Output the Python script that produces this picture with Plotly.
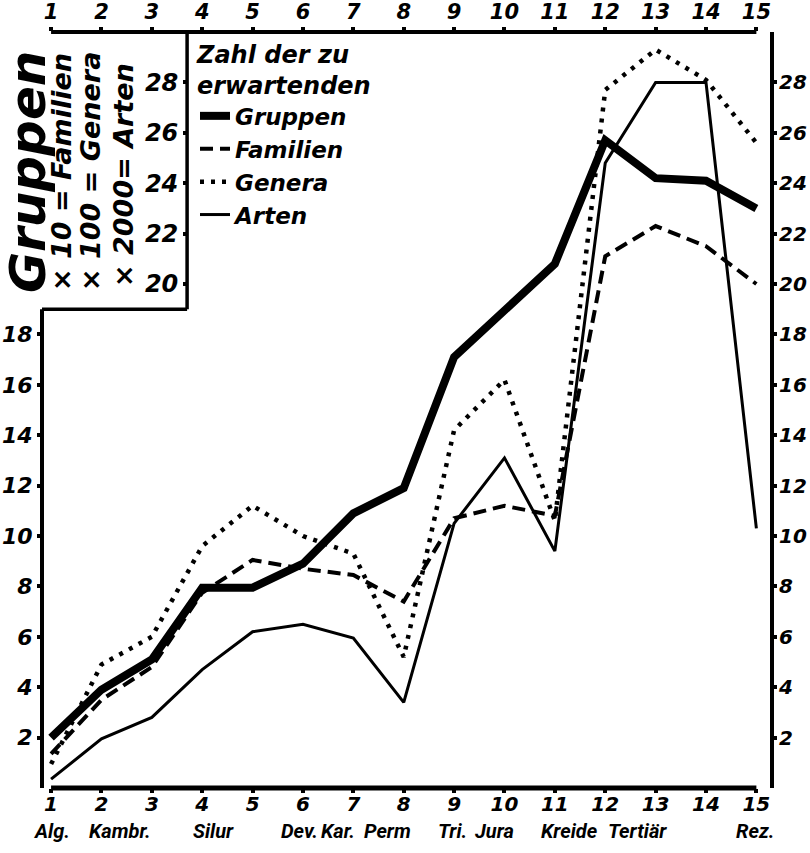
import plotly.graph_objects as go

# ---------------- data ----------------
epochs = list(range(1, 16))
period_names = ["Alg.", "Kambr.", "Silur", "Dev.", "Kar.", "Perm", "Tri.", "Jura", "Kreide", "Tertiär", "Rez."]
gruppen = [2.0, 3.9, 5.1, 7.95, 7.95, 8.9, 10.9, 11.9, 17.1, 19.0, 20.8, 25.7, 24.2, 24.1, 23.0]
familien = [1.35, 3.5, 4.8, 7.75, 9.05, 8.7, 8.45, 7.4, 10.7, 11.2, 10.8, 21.1, 22.3, 21.5, 20.0]
genera = [0.95, 4.9, 6.0, 9.6, 11.2, 10.0, 9.3, 5.2, 14.2, 16.2, 10.6, 27.7, 29.3, 28.1, 25.6]
arten = [0.35, 1.95, 2.8, 4.7, 6.2, 6.5, 5.95, 3.4, 10.5, 13.1, 9.4, 24.8, 28.0, 28.0, 10.3]
left_ticks = [2, 4, 6, 8, 10, 12, 14, 16, 18]
inset_ticks = [20, 22, 24, 26, 28]
right_ticks = [2, 4, 6, 8, 10, 12, 14, 16, 18, 20, 22, 24, 26, 28]

# ---------------- layout constants ----------------
W, H = 810, 853
ML, MR, MT, MB = 42, 38, 32, 65
X_RANGE = [0.82, 15.31]
Y_RANGE = [0, 30]
INSET_X = 3.70      # x position (data units) of the inset box edge
INSET_Y = 19        # y position (data units) of the inset box bottom
NAME_X = [1.0, 2.37, 4.23, 5.94, 6.69, 7.67, 8.96, 9.81, 11.3, 12.65, 14.97]
FAM = "DejaVu Sans"
INK = "black"

def f(size, family=FAM):
    return dict(family=family, size=size, color=INK, weight="bold", style="italic")

fig = go.Figure()
fig.add_trace(go.Scatter(x=epochs, y=gruppen, mode="lines", name="Gruppen",
                         line=dict(color=INK, width=8)))
fig.add_trace(go.Scatter(x=epochs, y=familien, mode="lines", name="Familien",
                         line=dict(color=INK, width=4, dash="13px,7px")))
fig.add_trace(go.Scatter(x=epochs, y=genera, mode="lines", name="Genera",
                         line=dict(color=INK, width=4.5, dash="4px,7px")))
fig.add_trace(go.Scatter(x=epochs, y=arten, mode="lines", name="Arten",
                         line=dict(color=INK, width=3)))
# invisible carriers so the top, right and inset axes are drawn
for xa, ya in (("x2", "y2"), ("x", "y3")):
    fig.add_trace(go.Scatter(x=epochs, y=gruppen, xaxis=xa, yaxis=ya, mode="lines",
                             line=dict(width=0), opacity=0, showlegend=False,
                             hoverinfo="skip"))

axis_common = dict(showgrid=False, zeroline=False, showline=False, ticks="outside",
                   ticklen=4, tickwidth=4, tickcolor=INK, automargin=False)

inset_pos = (INSET_X - X_RANGE[0]) / (X_RANGE[1] - X_RANGE[0])

fig.update_layout(
    width=W, height=H,
    margin=dict(l=ML, r=MR, t=MT, b=MB, pad=0),
    paper_bgcolor="white", plot_bgcolor="white",
    showlegend=True,
    legend=dict(x=(195 - ML) / (W - ML - MR), y=1.0,
                xanchor="left", yanchor="top", bgcolor="rgba(0,0,0,0)",
                font=f(23), title=dict(text="Zahl der zu<br>erwartenden", font=f(24), side="top"),
                itemwidth=30),
    xaxis=dict(range=X_RANGE, tickvals=epochs, ticktext=[str(e) for e in epochs],
               tickfont=f(20), tickangle=0, ticklabelstandoff=-6, **axis_common),
    xaxis2=dict(range=X_RANGE, overlaying="x", side="top", anchor="y", tickvals=epochs,
                ticktext=[str(e) for e in epochs], tickfont=f(21), tickangle=0, **axis_common),
    yaxis=dict(range=Y_RANGE, tickvals=left_ticks, ticktext=[str(v) for v in left_ticks],
               tickfont=f(22), **axis_common),
    yaxis2=dict(range=Y_RANGE, overlaying="y", side="right", anchor="x", tickvals=right_ticks,
                ticktext=[str(v) for v in right_ticks], tickfont=f(20),
                ticklabelstandoff=-2, **axis_common),
    yaxis3=dict(range=Y_RANGE, overlaying="y", side="left", anchor="free", position=inset_pos,
                tickvals=inset_ticks, ticktext=[str(v) for v in inset_ticks],
                tickfont=f(24), **axis_common),
)

# frame lines
shapes = [
    dict(type="line", xref="x", yref="paper", x0=epochs[0], x1=epochs[-1], y0=0, y1=0,
         line=dict(color=INK, width=5)),
    dict(type="line", xref="x", yref="paper", x0=epochs[0], x1=epochs[-1], y0=1, y1=1,
         line=dict(color=INK, width=4)),
    dict(type="line", xref="paper", yref="y", x0=0, x1=0, y0=-0.1, y1=INSET_Y,
         line=dict(color=INK, width=4)),
    dict(type="line", xref="paper", yref="paper", x0=1, x1=1, y0=0, y1=1,
         line=dict(color=INK, width=4)),
    dict(type="line", xref="x", yref="y", x0=INSET_X, x1=INSET_X, y0=INSET_Y, y1=Y_RANGE[1],
         line=dict(color=INK, width=3.5)),
    dict(type="line", xref="paper", yref="y", x0=0, x1=inset_pos, y0=INSET_Y, y1=INSET_Y,
         line=dict(color=INK, width=3.5)),
]
fig.update_layout(shapes=shapes)

pw, ph = W - ML - MR, H - MT - MB
def px(xp):
    return (xp - ML) / pw
def py(yp):
    return 1 - (yp - MT) / ph

annotations = [
    dict(text="Gruppen", x=px(28), y=py(172), font=f(50), textangle=-90),
    dict(text="× 10 = Familien", x=px(62), y=py(172), font=f(27), textangle=-90),
    dict(text="× 100 = Genera", x=px(91), y=py(172), font=f(27), textangle=-90),
    dict(text="× 2000= Arten", x=px(123), y=py(175), font=f(27), textangle=-90),
]
for name, xn in zip(period_names, NAME_X):
    annotations.append(dict(text=name, x=xn, xref="x", y=py(831), yref="paper",
                            font=f(20, "Roboto")))
for a in annotations:
    a.setdefault("xref", "paper")
    a.setdefault("yref", "paper")
    a["showarrow"] = False
    a["xanchor"] = "center"
    a["yanchor"] = "middle"
fig.update_layout(annotations=annotations)

fig.write_html("out.html", config={"displayModeBar": False},
               post_script="document.body.style.margin='0px';document.body.style.overflow='hidden';")
